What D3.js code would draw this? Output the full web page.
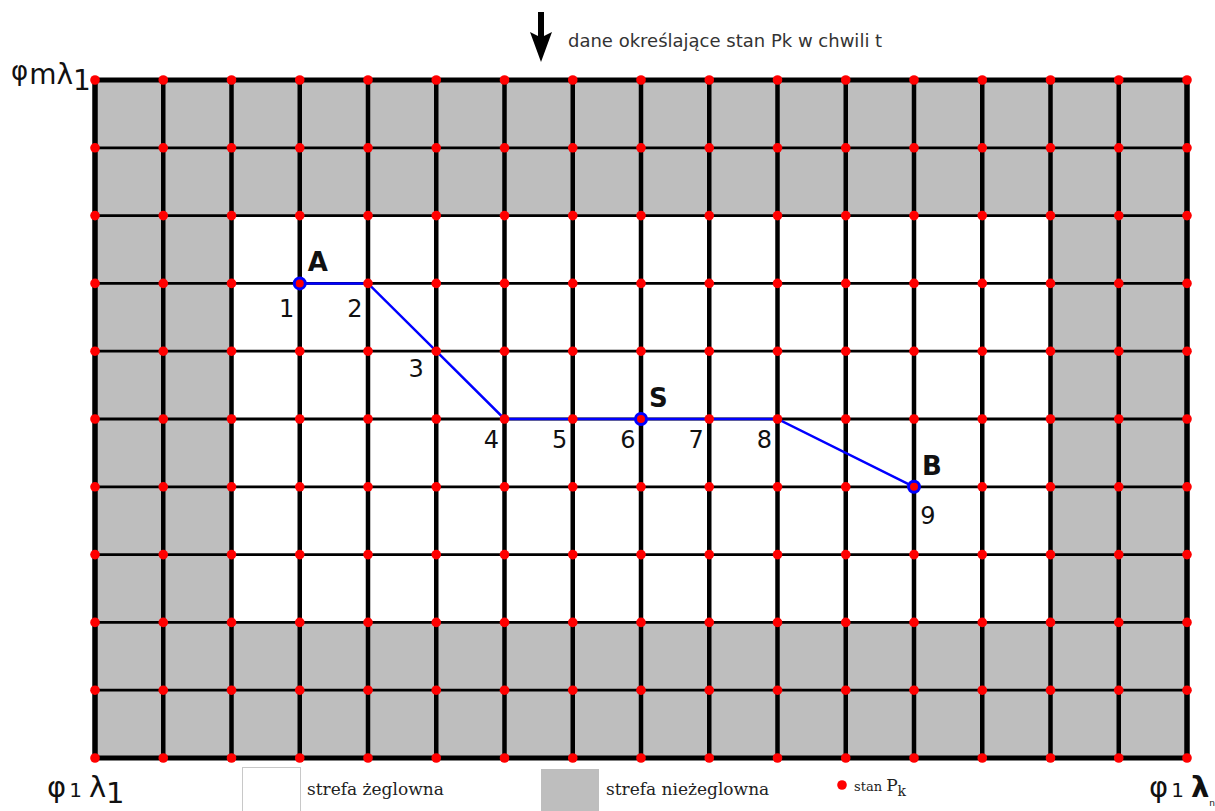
<!DOCTYPE html>
<html>
<head>
<meta charset="utf-8">
<script src="https://cdn.jsdelivr.net/npm/d3@7"></script>
<style>
    body { margin: 0; background: #fff; }
    svg { display: block; }
    .num { font-family: "DejaVu Sans", sans-serif; font-size: 24px; fill: #111; }
    .mark { font-family: "DejaVu Sans", sans-serif; font-size: 26px; font-weight: bold; fill: #111; }
    .corner { font-family: "DejaVu Sans", sans-serif; fill: #111; }
    .legend { font-family: "DejaVu Serif", serif; font-size: 17px; fill: #222; }
</style>
</head>
<body>
<div id="chart"></div>
<script>
// grid size (columns = lambda, rows = phi)
let nCols = 16, nRows = 10;
// non-sailable margin (cells) on each side
let borderCols = 2, borderRows = 2;

// route through grid nodes (column, row from top)
let routeCols = [3, 4, 5, 6, 7, 8, 9, 10, 12];
let routeRows = [3, 3, 4, 5, 5, 5, 5, 5, 6];
let routeNums = ["1", "2", "3", "4", "5", "6", "7", "8", "9"];
// named nodes: A start, S current, B end
let namedIdx = [0, 5, 8];
let namedLabels = ["A", "S", "B"];

let width = 1215, height = 811;
let svg = d3.select("#chart").append("svg")
    .attr("width", width)
    .attr("height", height);

let x = d3.scaleLinear().domain([0, nCols]).range([95, 1187]);
let y = d3.scaleLinear().domain([0, nRows]).range([80, 758]);

// cells
let cells = [];
for (let i = 0; i < nCols; i++) {
    for (let j = 0; j < nRows; j++) {
        let gray = i < borderCols || i >= nCols - borderCols || j < borderRows || j >= nRows - borderRows;
        cells.push({c: i, r: j, gray: gray});
    }
}
svg.selectAll(".cell")
    .data(cells)
    .enter().append("rect")
    .attr("class", "cell")
    .attr("x", d => x(d.c))
    .attr("y", d => y(d.r))
    .attr("width", x(1) - x(0))
    .attr("height", y(1) - y(0))
    .attr("fill", d => d.gray ? "#bebebe" : "#ffffff");

// horizontal lines
svg.selectAll(".hline")
    .data(d3.range(nRows + 1))
    .enter().append("line")
    .attr("class", "hline")
    .attr("x1", x(0)).attr("x2", x(nCols))
    .attr("y1", d => y(d)).attr("y2", d => y(d))
    .attr("stroke", "#000")
    .attr("stroke-width", d => (d === 0 || d === nRows) ? 5 : 2.8);

// vertical lines
svg.selectAll(".vline")
    .data(d3.range(nCols + 1))
    .enter().append("line")
    .attr("class", "vline")
    .attr("y1", y(0) - 2.5).attr("y2", y(nRows) + 2.5)
    .attr("x1", d => x(d)).attr("x2", d => x(d))
    .attr("stroke", "#000")
    .attr("stroke-width", d => (d === 0 || d === nCols) ? 5.5 : 4.5);

// route line
let route = routeCols.map((c, k) => [x(c), y(routeRows[k])]);
svg.append("path")
    .attr("d", d3.line()(route))
    .attr("fill", "none")
    .attr("stroke", "#0000ff")
    .attr("stroke-width", 2.5);

// state points P_k at every node
let nodes = [];
for (let i = 0; i <= nCols; i++) {
    for (let j = 0; j <= nRows; j++) {
        nodes.push({c: i, r: j});
    }
}
svg.selectAll(".node")
    .data(nodes)
    .enter().append("circle")
    .attr("class", "node")
    .attr("cx", d => x(d.c))
    .attr("cy", d => y(d.r))
    .attr("r", 4.8)
    .attr("fill", "#ff0000");

// named points
namedIdx.forEach(function (k, n) {
    svg.append("circle")
        .attr("cx", x(routeCols[k]))
        .attr("cy", y(routeRows[k]))
        .attr("r", 5.5)
        .attr("fill", "none")
        .attr("stroke", "#0000ff")
        .attr("stroke-width", 3);
    svg.append("circle")
        .attr("cx", x(routeCols[k]))
        .attr("cy", y(routeRows[k]))
        .attr("r", 2)
        .attr("fill", "#ff0000");
    svg.append("text")
        .attr("class", "mark")
        .attr("x", x(routeCols[k]) + 8)
        .attr("y", y(routeRows[k]) - 12)
        .text(namedLabels[n]);
});

// numbers along the route
svg.selectAll(".num")
    .data(routeNums)
    .enter().append("text")
    .attr("class", "num")
    .attr("text-anchor", "middle")
    .attr("x", function (d, k) {
        if (k === routeNums.length - 1) return x(routeCols[k]) + 14;
        if (k === 2) return x(routeCols[k]) - 20;
        return x(routeCols[k]) - 13;
    })
    .attr("y", function (d, k) {
        if (k === routeNums.length - 1) return y(routeRows[k]) + 37;
        if (k === 2) return y(routeRows[k]) + 26;
        if (k < 2) return y(routeRows[k]) + 34;
        return y(routeRows[k]) + 29;
    })
    .text(d => d);

// top arrow + caption
let arrow = d3.path();
arrow.moveTo(538, 12); arrow.lineTo(544, 12); arrow.lineTo(544, 36);
arrow.lineTo(552, 32); arrow.lineTo(541, 62); arrow.lineTo(530, 32);
arrow.lineTo(538, 36); arrow.closePath();
svg.append("path").attr("d", arrow.toString()).attr("fill", "#000");
svg.append("text")
    .attr("x", 568).attr("y", 47)
    .attr("font-family", "DejaVu Sans, sans-serif")
    .attr("font-size", 18)
    .attr("fill", "#333")
    .text("dane określające stan Pk w chwili t");

// corner labels
let tl = svg.append("text").attr("class", "corner").attr("x", 11).attr("y", 80);
tl.append("tspan").attr("font-size", 26).text("φ");
tl.append("tspan").attr("font-size", 28).attr("dx", 1).attr("dy", 4).text("mλ");
tl.append("tspan").attr("font-size", 28).attr("dy", 6).text("1");

let bl = svg.append("text").attr("class", "corner").attr("x", 47).attr("y", 797);
bl.append("tspan").attr("font-size", 29).text("φ");
bl.append("tspan").attr("font-size", 20).attr("dx", 3).text("1");
bl.append("tspan").attr("font-size", 29).attr("dx", 7).text("λ");
bl.append("tspan").attr("font-size", 29).attr("dy", 6).text("1");

let br = svg.append("text").attr("class", "corner").attr("x", 1149).attr("y", 797);
br.append("tspan").attr("font-size", 29).text("φ");
br.append("tspan").attr("font-size", 20).attr("dx", 3).text("1");
br.append("tspan").attr("font-size", 29).attr("dx", 7).attr("font-weight", "bold").text("λ");
br.append("tspan").attr("font-size", 9).attr("dy", 9).text("n");

// legend
svg.append("rect").attr("x", 242.5).attr("y", 767.5).attr("width", 58).attr("height", 50)
    .attr("fill", "#fff").attr("stroke", "#c8c8c8");
svg.append("text").attr("class", "legend").attr("x", 307).attr("y", 795).text("strefa żeglowna");
svg.append("rect").attr("x", 541).attr("y", 769).attr("width", 58).attr("height", 50)
    .attr("fill", "#bebebe");
svg.append("text").attr("class", "legend").attr("x", 606).attr("y", 795).text("strefa nieżeglowna");
svg.append("circle").attr("cx", 842).attr("cy", 785).attr("r", 4.8).attr("fill", "#ff0000");
let lp = svg.append("text").attr("class", "legend").attr("x", 854).attr("y", 791);
lp.append("tspan").attr("font-size", 13).text("stan ");
lp.append("tspan").attr("font-size", 17).text("P");
lp.append("tspan").attr("font-size", 14).attr("dy", 5).text("k");
</script>
</body>
</html>
